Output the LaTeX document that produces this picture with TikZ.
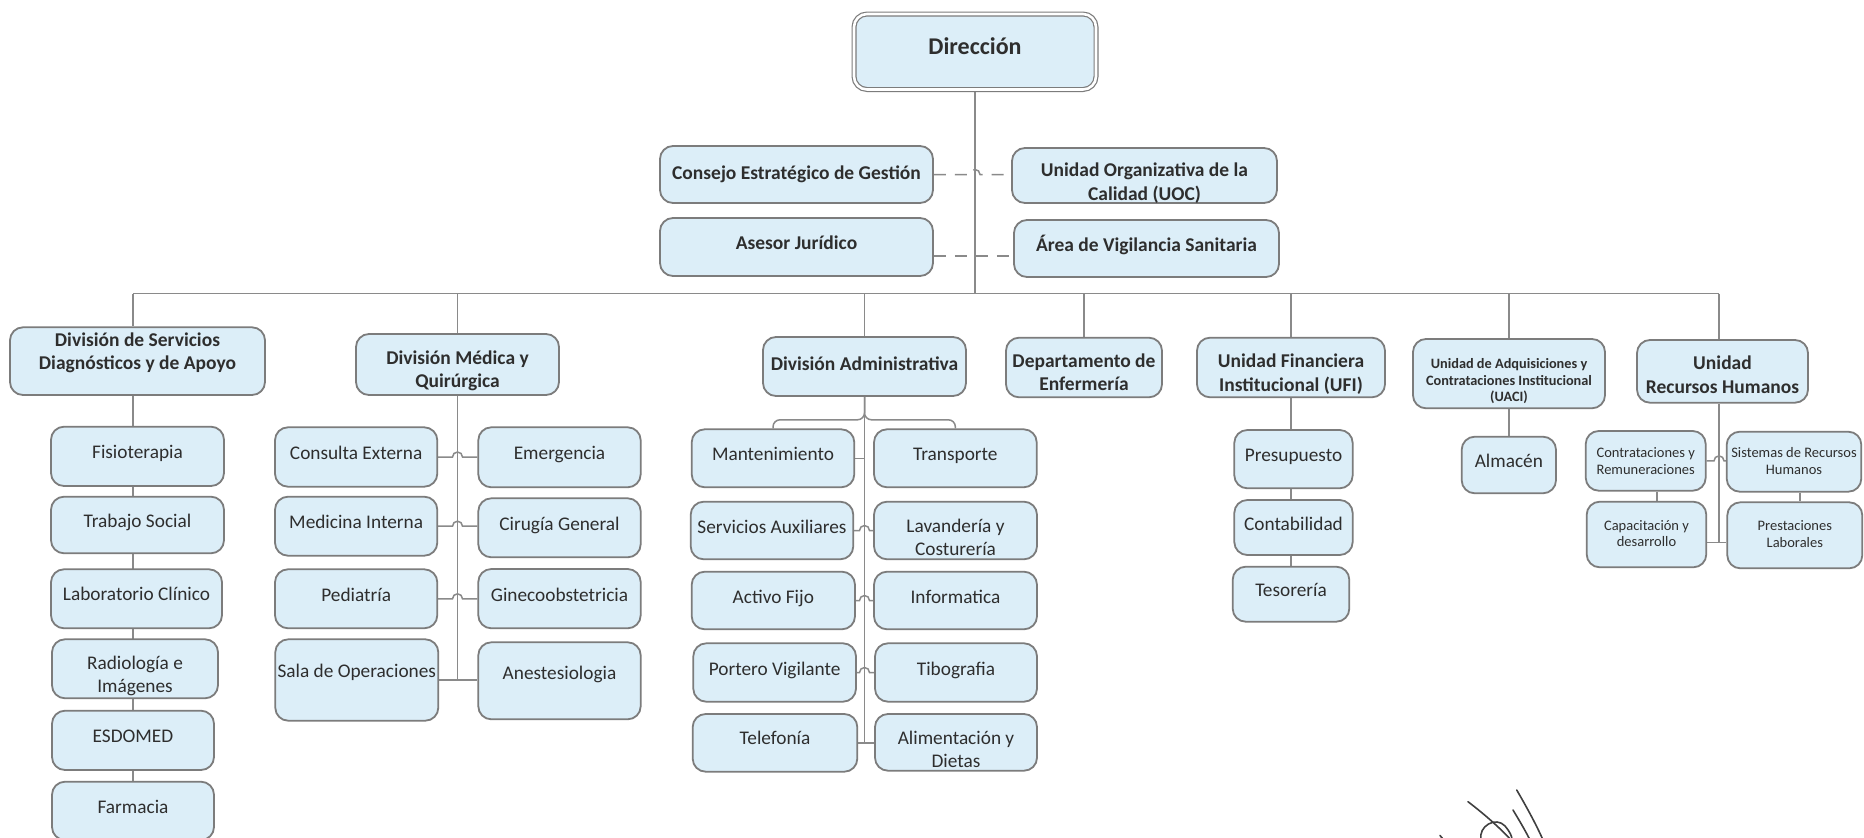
\documentclass[tikz,border=0pt]{standalone}
\usepackage{fontspec}
\setmainfont{Carlito}
\usetikzlibrary{calc,backgrounds}
\definecolor{boxblue}{HTML}{DCEEF8}
\definecolor{bordc}{HTML}{7C7C7C}
\definecolor{linec}{HTML}{8A8A8A}
\definecolor{txtc}{HTML}{2E2E2E}
\newcommand\fD{\fontsize{24}{28}\selectfont\bfseries}
\newcommand\fB{\fontsize{19.5}{23.5}\selectfont\bfseries}
\newcommand\fR{\fontsize{19.3}{22.8}\selectfont}
\newcommand\fSB{\fontsize{14.3}{16.7}\selectfont\bfseries}
\newcommand\fS{\fontsize{14.5}{16.7}\selectfont}
\tikzset{
  orgbox/.style={draw=bordc, line width=1.8pt, fill=boxblue, rounded corners=13pt, inner sep=0pt},
  dirbox/.style={orgbox, line width=1.2pt, double=white, double distance=2.6pt},
  orgtxt/.style={align=center, inner sep=0pt, text=txtc,
    execute at begin node=\strut, execute at end node=\strut},
  conn/.style={draw=linec, line width=1.5pt},
  dconn/.style={conn, dash pattern=on 12pt off 9pt},
  sig/.style={draw=black!75, line width=1.6pt, line cap=round}
}
% \bx{name}{x1}{y1}{x2}{y2}{text dy}{font}{text}
\newcommand\bx[8]{%
  \node[orgbox, minimum width={#4-#2}, minimum height={#5-#3}] (#1) at ({(#2+#4)/2},{(#3+#5)/2}) {};
  \node[orgtxt, font=#7] (#1-t) at ($(#1.center)+(0,#6)$) {#8};}
\newcommand\hop[3]{% from node #1 east to node #3 west, hopping over vertical at x of #2
  \draw[conn] (#1.east) -- ($(#1.east -| #2)+(-5,0)$) arc[start angle=180, end angle=360, radius=5] -- (#3.west |- #1.east);}

\begin{document}
\begin{tikzpicture}[x=1pt, y=-1pt]
\useasboundingbox (0,0) rectangle (1864,838);

% ---------- top ----------
\node[dirbox, minimum width=242, minimum height=75.5] (dir) at (975,51.75) {};
\node[orgtxt, font=\fD] (dir-t) at ($(dir.center)+(0,-3)$) {Dirección};
\bx{consejo}{660}{146}{933}{203}{0}{\fB}{Consejo Estratégico de Gestión}
\bx{uoc}{1012}{148}{1277}{203}{9.5}{\fB}{Unidad Organizativa de la\\Calidad (UOC)}
\bx{asesor}{660}{218}{933}{276}{-2}{\fB}{Asesor Jurídico}
\bx{area}{1014}{220}{1279}{277}{-2}{\fB}{Área de Vigilancia Sanitaria}

% ---------- divisions ----------
\bx{divserv}{10}{327.3}{265}{395}{-6.5}{\fB}{División de Servicios\\Diagnósticos y de Apoyo}
\bx{divmed}{356}{334}{559}{395}{8}{\fB}{División Médica y\\Quirúrgica}
\bx{divadm}{763}{337}{966}{396}{-1}{\fB}{División Administrativa}
\bx{depto}{1006}{337.7}{1162}{397.3}{8}{\fB}{Departamento de\\Enfermería}
\bx{ufi}{1197}{337.7}{1385}{397.3}{8.5}{\fB}{Unidad Financiera\\Institucional (UFI)}
\bx{uaci}{1413}{339}{1605}{408.3}{9}{\fSB}{Unidad de Adquisiciones y\\Contrataciones Institucional\\(UACI)}
\bx{rrhh}{1637}{340}{1808}{402.7}{7}{\fB}{Unidad\\Recursos Humanos}

% ---------- División de Servicios ----------
\bx{fisio}{51}{426.7}{224}{486}{-2.5}{\fR}{Fisioterapia}
\bx{trab}{51}{496.7}{224}{553.3}{-2}{\fR}{Trabajo Social}
\bx{lab}{51}{569.3}{222}{628.3}{-2.5}{\fR}{Laboratorio Clínico}
\bx{radio}{52}{639.3}{218}{698.3}{9}{\fR}{Radiología e\\Imágenes}
\bx{esdo}{52}{710.7}{214}{770}{-2}{\fR}{ESDOMED}
\bx{farm}{52}{781.7}{214}{840}{-1.5}{\fR}{Farmacia}

% ---------- División Médica ----------
\bx{consulta}{275}{427.3}{437.3}{486.7}{-2.5}{\fR}{Consulta Externa}
\bx{medint}{275}{496.7}{437.3}{555.7}{-2}{\fR}{Medicina Interna}
\bx{pedia}{275}{569.3}{437.3}{628.3}{-2}{\fR}{Pediatría}
\bx{sala}{275.3}{639.3}{438.3}{720.7}{-7}{\fR}{Sala de Operaciones}
\bx{emerg}{478.3}{427.3}{640.7}{487.3}{-2}{\fR}{Emergencia}
\bx{cirug}{478.3}{498.3}{640.7}{557.3}{-2}{\fR}{Cirugía General}
\bx{gineco}{478.3}{569}{640.7}{628.3}{-2}{\fR}{Ginecoobstetricia}
\bx{anest}{478.3}{642.3}{640.7}{719.3}{-6}{\fR}{Anestesiologia}

% ---------- División Administrativa ----------
\bx{mant}{691.7}{429.3}{854.3}{487.3}{-2}{\fR}{Mantenimiento}
\bx{transp}{874}{429.3}{1036.7}{487.3}{-2}{\fR}{Transporte}
\bx{servaux}{690.7}{501.7}{853.3}{559.3}{-2}{\fR}{Servicios Auxiliares}
\bx{lav}{874}{501.7}{1037}{559.3}{10}{\fR}{Lavandería y\\Costurería}
\bx{activo}{691.7}{571.7}{855}{629.3}{-2}{\fR}{Activo Fijo}
\bx{info}{874}{571.7}{1037}{629.3}{-2}{\fR}{Informatica}
\bx{portero}{693.3}{643.3}{856}{701.7}{-2}{\fR}{Portero Vigilante}
\bx{tibo}{875}{643.3}{1037}{701.7}{-2}{\fR}{Tibografia}
\bx{telef}{692.7}{714}{857.3}{771.7}{-2.5}{\fR}{Telefonía}
\bx{alim}{875}{714}{1037}{770.7}{10}{\fR}{Alimentación y\\Dietas}

% ---------- UFI / UACI ----------
\bx{presu}{1234.3}{430}{1352.7}{488.3}{-2.5}{\fR}{Presupuesto}
\bx{conta}{1234.3}{500}{1352.7}{555}{-1.5}{\fR}{Contabilidad}
\bx{teso}{1232.7}{566.7}{1349.3}{621.7}{-2.5}{\fR}{Tesorería}
\bx{alma}{1461.7}{436.7}{1556}{493.3}{-2}{\fR}{Almacén}

% ---------- RRHH ----------
\bx{contr}{1585.7}{431}{1705.7}{490.7}{2.5}{\fS}{Contrataciones y\\Remuneraciones}
\bx{sist}{1726.7}{431.7}{1861.3}{491.7}{2}{\fS}{Sistemas de Recursos\\Humanos}
\bx{capac}{1586.7}{501.7}{1706.3}{567.3}{1.5}{\fS}{Capacitación y\\desarrollo}
\bx{prest}{1727.3}{502.3}{1862.3}{568.3}{1}{\fS}{Prestaciones\\Laborales}

% ---------- connectors ----------
\coordinate (busL) at (133,293.5);
\coordinate (busR) at (1719,293.5);
\coordinate (serT) at (133,0);
\coordinate (rhT) at (1719,0);
\coordinate (ccT) at (1657,0);
\coordinate (spT) at (1800,0);

\begin{pgfonlayer}{background}
\fill[white] (0,0) rectangle (1864,838);
% main bus
\draw[conn] (dir.south) -- (dir.south |- busL);
\draw[conn] (busL) -- (busR);
\draw[conn] (busL) -- (busL |- divserv.north);
\draw[conn] (divmed.north |- busL) -- (divmed.north);
\draw[conn] (divadm.north |- busL) -- (divadm.north);
\draw[conn] (depto.north |- busL) -- (depto.north);
\draw[conn] (ufi.north |- busL) -- (ufi.north);
\draw[conn] (uaci.north |- busL) -- (uaci.north);
\draw[conn] (busR) -- (busR |- rrhh.north);
% staff (dashed)
\draw[dconn] (consejo.east) -- ($(consejo.east -| dir.south)+(-5,0)$) arc[start angle=180, end angle=360, radius=5] -- (uoc.west |- consejo.east);
\draw[dconn] ($(asesor.east)+(0,9)$) -- ($(area.west |- asesor.east)+(0,9)$);
% División de Servicios
\draw[conn] (divserv.south -| serT) -- (farm.north -| serT);
% División Médica
\draw[conn] (divmed.south) -- (divmed.south |- sala.east);
\hop{consulta}{divmed.south}{emerg}
\hop{medint}{divmed.south}{cirug}
\hop{pedia}{divmed.south}{gineco}
\draw[conn] (sala.east) -- (anest.west |- sala.east);
% División Administrativa
\draw[conn] (divadm.south) -- (divadm.south |- telef.east);
\draw[conn, rounded corners=7pt] (divadm.south) -- ($(divadm.south |- mant.north)+(0,-8.6)$) -- ($(mant.north)+(0,-8.6)$) -- (mant.north);
\draw[conn, rounded corners=7pt] (divadm.south) -- ($(divadm.south |- transp.north)+(0,-8.6)$) -- ($(transp.north)+(0,-8.6)$) -- (transp.north);
\draw[conn] (mant.east) -- (mant.east -| divadm.south);
\hop{servaux}{divadm.south}{lav}
\hop{activo}{divadm.south}{info}
\hop{portero}{divadm.south}{tibo}
\draw[conn] (telef.east) -- (alim.west |- telef.east);
% UFI, UACI
\draw[conn] (ufi.south) -- (teso.north -| ufi.south);
\draw[conn] (uaci.south) -- (alma.north -| uaci.south);
% RRHH
\draw[conn] (rrhh.south -| rhT) -- ($(capac.east -| rhT)+(0,8)$);
\hop{contr}{rhT}{sist}
\draw[conn] (contr.south -| ccT) -- (capac.north -| ccT);
\draw[conn] (sist.south -| spT) -- (prest.north -| spT);
\draw[conn] ($(capac.east)+(0,8)$) -- ($(prest.west |- capac.east)+(0,8)$);
\end{pgfonlayer}

% ---------- signature ----------
\draw[sig] (1468,801.7) .. controls (1484,814) and (1498,826) .. (1511,840);
\draw[sig] (1516.7,790) .. controls (1526,806) and (1536,824) .. (1543,840);
\draw[sig] (1513,810) .. controls (1519,820) and (1525,830) .. (1530,840);
\draw[sig] (1481,840) .. controls (1478,826) and (1496,816) .. (1505,826) .. controls (1510,832) and (1512,836) .. (1512,840);
\draw[sig] (1440,835.5) -- (1443,839);
\end{tikzpicture}
\end{document}
